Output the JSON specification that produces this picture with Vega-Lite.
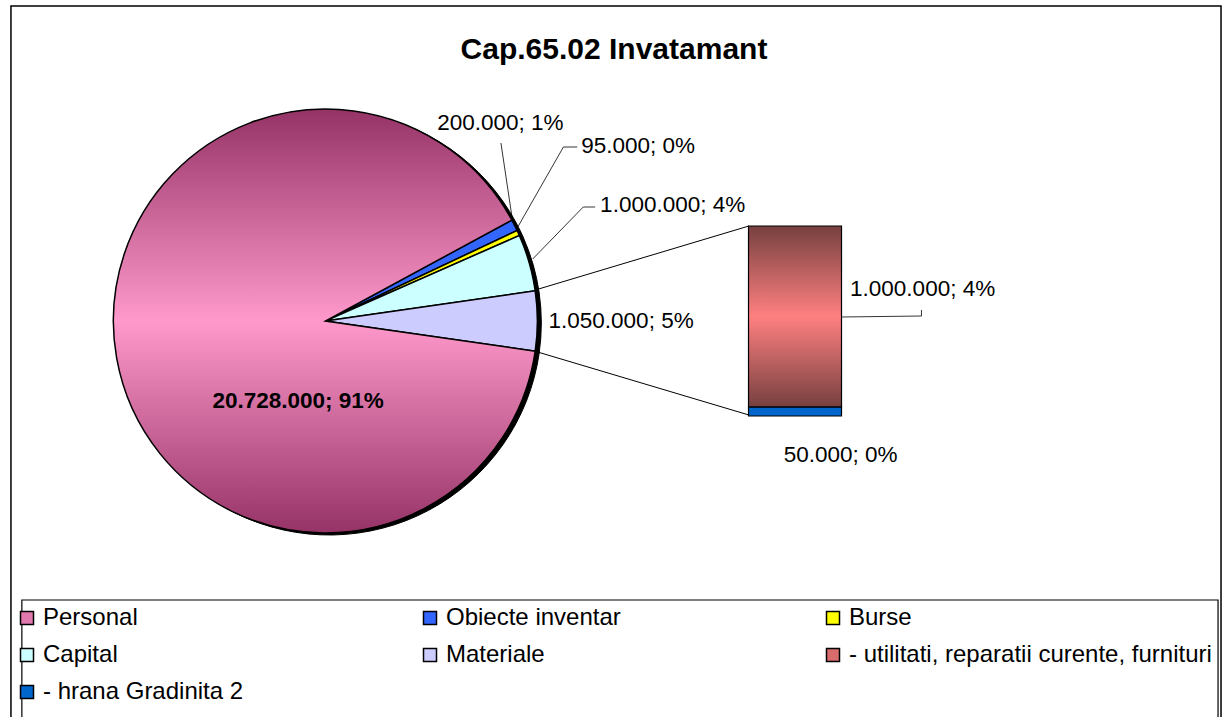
{
  "$schema": "https://vega.github.io/schema/vega-lite/v6.json",
  "width": 1228,
  "height": 717,
  "autosize": "none",
  "padding": 0,
  "background": "white",
  "config": {"view": {"stroke": null}},
  "title": {
    "text": "Cap.65.02 Invatamant",
    "font": "Liberation Sans",
    "fontSize": 30,
    "fontWeight": "bold",
    "color": "black",
    "anchor": "middle",
    "frame": "group",
    "offset": 0,
    "baseline": "alphabetic",
    "dy": 89
  },
  "datasets": {
    "pie": [
      {"cat": "Obiecte inventar", "value": 200000, "label": "200.000; 1%"},
      {"cat": "Burse", "value": 95000, "label": "95.000; 0%"},
      {"cat": "Capital", "value": 1000000, "label": "1.000.000; 4%"},
      {"cat": "Materiale", "value": 1050000, "label": "1.050.000; 5%"},
      {"cat": "Personal", "value": 20728000, "label": "20.728.000; 91%"}
    ],
    "bar": [
      {"cat": "- hrana Gradinita 2", "value": 50000, "label": "50.000; 0%"},
      {"cat": "- utilitati, reparatii curente, furnituri", "value": 1000000, "label": "1.000.000; 4%"}
    ]
  },
  "resolve": {"scale": {"y": "independent"}},
  "layer": [
    {
      "data": {"name": "pie"},
      "transform": [{"filter": "datum.cat === 'Personal'"}],
      "mark": {"type": "rect", "filled": false, "stroke": "black", "strokeWidth": 1.5},
      "encoding": {
        "x": {"datum": 6, "type": "quantitative", "scale": {"domain": [0, 1228], "range": [0, 1228], "nice": false, "zero": false}, "axis": null},
        "x2": {"datum": 1226},
        "y": {"datum": 6, "type": "quantitative", "scale": {"domain": [0, 717], "range": [0, 717], "nice": false, "zero": false}, "axis": null},
        "y2": {"datum": 760}
      }
    },
    {
      "data": {"name": "pie"},
      "transform": [{"filter": "datum.cat === 'Personal'"}],
      "mark": {"type": "rect", "filled": false, "stroke": "black", "strokeWidth": 1.2},
      "encoding": {
        "x": {"datum": 17, "type": "quantitative", "scale": {"domain": [0, 1228], "range": [0, 1228], "nice": false, "zero": false}, "axis": null},
        "x2": {"datum": 1223},
        "y": {"datum": 600, "type": "quantitative", "scale": {"domain": [0, 717], "range": [0, 717], "nice": false, "zero": false}, "axis": null},
        "y2": {"datum": 760}
      }
    },
    {
      "data": {"name": "pie"},
      "transform": [{"window": [{"op": "row_number", "as": "idx"}]}],
      "mark": {"type": "arc", "outerRadius": 212, "fill": "black", "stroke": "black", "strokeWidth": 1},
      "encoding": {
        "theta": {"field": "value", "type": "quantitative", "stack": true, "scale": {"range": [1.07518, 7.35837]}},
        "order": {"field": "idx", "type": "quantitative"},
        "x": {"datum": 327, "type": "quantitative", "scale": {"domain": [0, 1228], "range": [0, 1228], "nice": false, "zero": false}, "axis": null},
        "y": {"datum": 323, "type": "quantitative", "scale": {"domain": [0, 717], "range": [0, 717], "nice": false, "zero": false}, "axis": null}
      }
    },
    {
      "data": {"name": "pie"},
      "transform": [{"window": [{"op": "row_number", "as": "idx"}]}],
      "mark": {"type": "arc", "outerRadius": 212, "stroke": "black", "strokeWidth": 1.5},
      "encoding": {
        "theta": {"field": "value", "type": "quantitative", "stack": true, "scale": {"range": [1.07518, 7.35837]}},
        "order": {"field": "idx", "type": "quantitative"},
        "x": {"datum": 323, "type": "quantitative", "scale": {"domain": [0, 1228], "range": [0, 1228], "nice": false, "zero": false}, "axis": null},
        "y": {"datum": 321, "type": "quantitative", "scale": {"domain": [0, 717], "range": [0, 717], "nice": false, "zero": false}, "axis": null},
        "color": {
          "condition": {
            "test": "datum.cat === 'Personal'",
            "value": {"gradient": "linear", "x1": 0, "y1": 0, "x2": 0, "y2": 1, "stops": [{"offset": 0, "color": "#963366"}, {"offset": 0.5, "color": "#FF99CC"}, {"offset": 1, "color": "#963366"}]}
          },
          "field": "cat",
          "type": "nominal",
          "scale": {
            "domain": ["Personal", "Obiecte inventar", "Burse", "Capital", "Materiale", "- utilitati, reparatii curente, furnituri", "- hrana Gradinita 2"],
            "range": ["#E07AAE", "#3366FF", "#FFFF00", "#CCFFFF", "#CCCCFF", "#D86C6C", "#0066CC"]
          },
          "legend": {
            "title": null, "orient": "none", "legendX": 9, "legendY": 600, "padding": 6, "direction": "horizontal",
            "columns": 3, "gridAlign": "all", "columnPadding": 12, "rowPadding": 13,
            "symbolType": "square", "symbolSize": 169, "symbolStrokeColor": "black", "symbolStrokeWidth": 1.5,
            "labelFont": "Liberation Sans", "labelFontSize": 24, "labelColor": "black", "labelOffset": 4, "labelLimit": 600
          }
        }
      }
    },
    {
      "data": {"name": "pie"},
      "transform": [{"filter": "datum.cat === 'Materiale'"}],
      "mark": {"type": "rule", "stroke": "black", "strokeWidth": 1},
      "encoding": {
        "x": {"datum": 538, "type": "quantitative", "scale": {"domain": [0, 1228], "range": [0, 1228], "nice": false, "zero": false}, "axis": null},
        "x2": {"datum": 750},
        "y": {"datum": 289, "type": "quantitative", "scale": {"domain": [0, 717], "range": [0, 717], "nice": false, "zero": false}, "axis": null},
        "y2": {"datum": 226}
      }
    },
    {
      "data": {"name": "pie"},
      "transform": [{"filter": "datum.cat === 'Materiale'"}],
      "mark": {"type": "rule", "stroke": "black", "strokeWidth": 1},
      "encoding": {
        "x": {"datum": 537, "type": "quantitative", "scale": {"domain": [0, 1228], "range": [0, 1228], "nice": false, "zero": false}, "axis": null},
        "x2": {"datum": 750},
        "y": {"datum": 352, "type": "quantitative", "scale": {"domain": [0, 717], "range": [0, 717], "nice": false, "zero": false}, "axis": null},
        "y2": {"datum": 415}
      }
    },
    {
      "data": {"name": "pie"},
      "transform": [{"filter": "datum.cat === 'Obiecte inventar'"}],
      "mark": {"type": "rule", "stroke": "black", "strokeWidth": 0.8},
      "encoding": {
        "x": {"datum": 500, "type": "quantitative", "scale": {"domain": [0, 1228], "range": [0, 1228], "nice": false, "zero": false}, "axis": null},
        "x2": {"datum": 511},
        "y": {"datum": 143, "type": "quantitative", "scale": {"domain": [0, 717], "range": [0, 717], "nice": false, "zero": false}, "axis": null},
        "y2": {"datum": 216}
      }
    },
    {
      "data": {"name": "pie"},
      "transform": [{"filter": "datum.cat === 'Burse'"}],
      "mark": {"type": "rule", "stroke": "black", "strokeWidth": 0.8},
      "encoding": {
        "x": {"datum": 577, "type": "quantitative", "scale": {"domain": [0, 1228], "range": [0, 1228], "nice": false, "zero": false}, "axis": null},
        "x2": {"datum": 563},
        "y": {"datum": 147, "type": "quantitative", "scale": {"domain": [0, 717], "range": [0, 717], "nice": false, "zero": false}, "axis": null},
        "y2": {"datum": 147}
      }
    },
    {
      "data": {"name": "pie"},
      "transform": [{"filter": "datum.cat === 'Burse'"}],
      "mark": {"type": "rule", "stroke": "black", "strokeWidth": 0.8},
      "encoding": {
        "x": {"datum": 563, "type": "quantitative", "scale": {"domain": [0, 1228], "range": [0, 1228], "nice": false, "zero": false}, "axis": null},
        "x2": {"datum": 517},
        "y": {"datum": 147, "type": "quantitative", "scale": {"domain": [0, 717], "range": [0, 717], "nice": false, "zero": false}, "axis": null},
        "y2": {"datum": 227}
      }
    },
    {
      "data": {"name": "pie"},
      "transform": [{"filter": "datum.cat === 'Capital'"}],
      "mark": {"type": "rule", "stroke": "black", "strokeWidth": 0.8},
      "encoding": {
        "x": {"datum": 595, "type": "quantitative", "scale": {"domain": [0, 1228], "range": [0, 1228], "nice": false, "zero": false}, "axis": null},
        "x2": {"datum": 583},
        "y": {"datum": 207, "type": "quantitative", "scale": {"domain": [0, 717], "range": [0, 717], "nice": false, "zero": false}, "axis": null},
        "y2": {"datum": 207}
      }
    },
    {
      "data": {"name": "pie"},
      "transform": [{"filter": "datum.cat === 'Capital'"}],
      "mark": {"type": "rule", "stroke": "black", "strokeWidth": 0.8},
      "encoding": {
        "x": {"datum": 583, "type": "quantitative", "scale": {"domain": [0, 1228], "range": [0, 1228], "nice": false, "zero": false}, "axis": null},
        "x2": {"datum": 532},
        "y": {"datum": 207, "type": "quantitative", "scale": {"domain": [0, 717], "range": [0, 717], "nice": false, "zero": false}, "axis": null},
        "y2": {"datum": 259}
      }
    },
    {
      "data": {"name": "bar"},
      "transform": [{"window": [{"op": "row_number", "as": "idx"}]}],
      "mark": {"type": "bar", "width": 93, "orient": "vertical", "stroke": "black", "strokeWidth": 1.2},
      "encoding": {
        "x": {"datum": 796.5, "type": "quantitative", "scale": {"domain": [0, 1228], "range": [0, 1228], "nice": false, "zero": false}, "axis": null},
        "y": {"field": "value", "type": "quantitative", "stack": "zero", "scale": {"domain": [0, 1050000], "range": [416, 226], "nice": false, "zero": false}, "axis": null},
        "order": {"field": "idx", "type": "quantitative"},
        "color": {
          "condition": {
            "test": "datum.cat === '- utilitati, reparatii curente, furnituri'",
            "value": {"gradient": "linear", "x1": 0, "y1": 0, "x2": 0, "y2": 1, "stops": [{"offset": 0, "color": "#774040"}, {"offset": 0.5, "color": "#FF8080"}, {"offset": 1, "color": "#774040"}]}
          },
          "field": "cat",
          "type": "nominal",
          "scale": {
            "domain": ["Personal", "Obiecte inventar", "Burse", "Capital", "Materiale", "- utilitati, reparatii curente, furnituri", "- hrana Gradinita 2"],
            "range": ["#E07AAE", "#3366FF", "#FFFF00", "#CCFFFF", "#CCCCFF", "#D86C6C", "#0066CC"]
          },
          "legend": {
            "title": null, "orient": "none", "legendX": 9, "legendY": 600, "padding": 6, "direction": "horizontal",
            "columns": 3, "gridAlign": "all", "columnPadding": 12, "rowPadding": 13,
            "symbolType": "square", "symbolSize": 169, "symbolStrokeColor": "black", "symbolStrokeWidth": 1.5,
            "labelFont": "Liberation Sans", "labelFontSize": 24, "labelColor": "black", "labelOffset": 4, "labelLimit": 600
          }
        }
      }
    },
    {
      "data": {"name": "bar"},
      "transform": [{"filter": "datum.cat === '- utilitati, reparatii curente, furnituri'"}],
      "mark": {"type": "rule", "stroke": "black", "strokeWidth": 0.8},
      "encoding": {
        "x": {"datum": 843, "type": "quantitative", "scale": {"domain": [0, 1228], "range": [0, 1228], "nice": false, "zero": false}, "axis": null},
        "x2": {"datum": 924},
        "y": {"datum": 317, "type": "quantitative", "scale": {"domain": [0, 717], "range": [0, 717], "nice": false, "zero": false}, "axis": null},
        "y2": {"datum": 316}
      }
    },
    {
      "data": {"name": "bar"},
      "transform": [{"filter": "datum.cat === '- utilitati, reparatii curente, furnituri'"}],
      "mark": {"type": "rule", "stroke": "black", "strokeWidth": 0.8},
      "encoding": {
        "x": {"datum": 924, "type": "quantitative", "scale": {"domain": [0, 1228], "range": [0, 1228], "nice": false, "zero": false}, "axis": null},
        "x2": {"datum": 924},
        "y": {"datum": 316, "type": "quantitative", "scale": {"domain": [0, 717], "range": [0, 717], "nice": false, "zero": false}, "axis": null},
        "y2": {"datum": 310}
      }
    },
    {
      "data": {"name": "pie"},
      "transform": [{"filter": "datum.cat === 'Obiecte inventar'"}],
      "mark": {"type": "text", "font": "Liberation Sans", "fontSize": 22.5, "align": "center", "baseline": "middle", "color": "black"},
      "encoding": {
        "x": {"datum": 499.5, "type": "quantitative", "scale": {"domain": [0, 1228], "range": [0, 1228], "nice": false, "zero": false}, "axis": null},
        "y": {"datum": 123, "type": "quantitative", "scale": {"domain": [0, 717], "range": [0, 717], "nice": false, "zero": false}, "axis": null},
        "text": {"field": "label"}
      }
    },
    {
      "data": {"name": "pie"},
      "transform": [{"filter": "datum.cat === 'Burse'"}],
      "mark": {"type": "text", "font": "Liberation Sans", "fontSize": 22.5, "align": "left", "baseline": "middle", "color": "black"},
      "encoding": {
        "x": {"datum": 581, "type": "quantitative", "scale": {"domain": [0, 1228], "range": [0, 1228], "nice": false, "zero": false}, "axis": null},
        "y": {"datum": 146, "type": "quantitative", "scale": {"domain": [0, 717], "range": [0, 717], "nice": false, "zero": false}, "axis": null},
        "text": {"field": "label"}
      }
    },
    {
      "data": {"name": "pie"},
      "transform": [{"filter": "datum.cat === 'Capital'"}],
      "mark": {"type": "text", "font": "Liberation Sans", "fontSize": 22.5, "align": "left", "baseline": "middle", "color": "black"},
      "encoding": {
        "x": {"datum": 600, "type": "quantitative", "scale": {"domain": [0, 1228], "range": [0, 1228], "nice": false, "zero": false}, "axis": null},
        "y": {"datum": 205, "type": "quantitative", "scale": {"domain": [0, 717], "range": [0, 717], "nice": false, "zero": false}, "axis": null},
        "text": {"field": "label"}
      }
    },
    {
      "data": {"name": "pie"},
      "transform": [{"filter": "datum.cat === 'Materiale'"}],
      "mark": {"type": "text", "font": "Liberation Sans", "fontSize": 22.5, "align": "left", "baseline": "middle", "color": "black"},
      "encoding": {
        "x": {"datum": 548, "type": "quantitative", "scale": {"domain": [0, 1228], "range": [0, 1228], "nice": false, "zero": false}, "axis": null},
        "y": {"datum": 321, "type": "quantitative", "scale": {"domain": [0, 717], "range": [0, 717], "nice": false, "zero": false}, "axis": null},
        "text": {"field": "label"}
      }
    },
    {
      "data": {"name": "pie"},
      "transform": [{"filter": "datum.cat === 'Personal'"}],
      "mark": {"type": "text", "font": "Liberation Sans", "fontSize": 22.5, "fontWeight": "bold", "align": "center", "baseline": "middle", "color": "black"},
      "encoding": {
        "x": {"datum": 295.5, "type": "quantitative", "scale": {"domain": [0, 1228], "range": [0, 1228], "nice": false, "zero": false}, "axis": null},
        "y": {"datum": 401, "type": "quantitative", "scale": {"domain": [0, 717], "range": [0, 717], "nice": false, "zero": false}, "axis": null},
        "text": {"field": "label"}
      }
    },
    {
      "data": {"name": "bar"},
      "transform": [{"filter": "datum.cat === '- utilitati, reparatii curente, furnituri'"}],
      "mark": {"type": "text", "font": "Liberation Sans", "fontSize": 22.5, "align": "left", "baseline": "middle", "color": "black"},
      "encoding": {
        "x": {"datum": 852, "type": "quantitative", "scale": {"domain": [0, 1228], "range": [0, 1228], "nice": false, "zero": false}, "axis": null},
        "y": {"datum": 289, "type": "quantitative", "scale": {"domain": [0, 717], "range": [0, 717], "nice": false, "zero": false}, "axis": null},
        "text": {"field": "label"}
      }
    },
    {
      "data": {"name": "bar"},
      "transform": [{"filter": "datum.cat === '- hrana Gradinita 2'"}],
      "mark": {"type": "text", "font": "Liberation Sans", "fontSize": 22.5, "align": "center", "baseline": "middle", "color": "black"},
      "encoding": {
        "x": {"datum": 842.5, "type": "quantitative", "scale": {"domain": [0, 1228], "range": [0, 1228], "nice": false, "zero": false}, "axis": null},
        "y": {"datum": 455, "type": "quantitative", "scale": {"domain": [0, 717], "range": [0, 717], "nice": false, "zero": false}, "axis": null},
        "text": {"field": "label"}
      }
    }
  ]
}
